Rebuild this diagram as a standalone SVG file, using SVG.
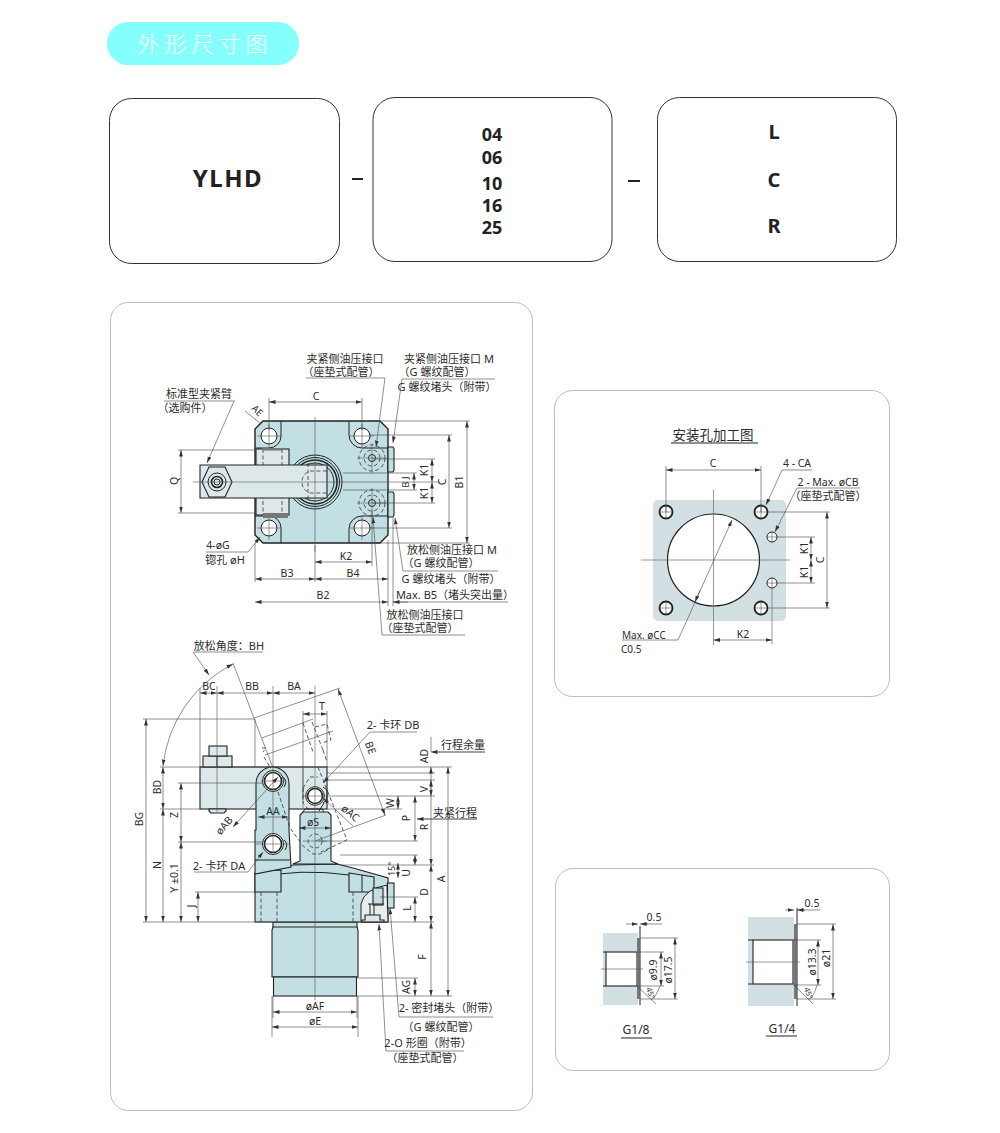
<svg xmlns="http://www.w3.org/2000/svg" width="1000" height="1133" viewBox="0 0 1000 1133">
<style>
text{font-family:"Noto Sans","Noto Sans CJK SC",sans-serif;font-size:10.500px;fill:#2b2b2b;text-anchor:middle}
.c{font-size:11px}
.l{text-anchor:start}
.hd{font-weight:700;fill:#222}
.box{fill:#fff;stroke:#333;stroke-width:1}
.panel{fill:#fff;stroke:#bdbdbd;stroke-width:1}
.body{fill:#c2dfe3;stroke:#222;stroke-width:1.1}
.arm{fill:#dde8ea;stroke:#222;stroke-width:1.1}
.wh{fill:#fff;stroke:#222;stroke-width:1}
.ln{fill:none;stroke:#222;stroke-width:1}
.hv{fill:none;stroke:#222;stroke-width:1.600}
.dsh{fill:none;stroke:#333;stroke-width:.8;stroke-dasharray:4 2.500}
.ctr{fill:none;stroke:#555;stroke-width:.6}
.d{fill:none;stroke:#444;stroke-width:.6}
.da{fill:none;stroke:#444;stroke-width:.6;marker-start:url(#a);marker-end:url(#a)}
.ae{fill:none;stroke:#444;stroke-width:.6;marker-end:url(#a)}
</style>
<defs>
<marker id="a" markerUnits="userSpaceOnUse" markerWidth="7" markerHeight="5" refX="6.500" refY="2.500" orient="auto-start-reverse"><path d="M0 0.6L6.500 2.500L0 4.400Z" fill="#333"/></marker>
</defs>
<rect width="1000" height="1133" fill="#fff"/>

<g id="title">
<rect x="107" y="22" width="192" height="43" rx="21" fill="#86ffff"/>
<text x="205" y="52" style="font-size:22px;fill:#fff;font-weight:300;letter-spacing:5px">外形尺寸图</text>
</g>

<g id="model-code">
<g id="box-series"><rect class="box" x="109.500" y="98.500" width="230" height="165" rx="22"/>
<text class="hd" x="228" y="187" style="font-size:24px;letter-spacing:1.500px">YLHD</text></g>
<g id="box-size"><rect class="box" x="373" y="97.500" width="239" height="164" rx="22"/>
<text class="hd" x="492" y="141" style="font-size:18px">04</text>
<text class="hd" x="492" y="164" style="font-size:18px">06</text>
<text class="hd" x="492" y="190" style="font-size:18px">10</text>
<text class="hd" x="492" y="212" style="font-size:18px">16</text>
<text class="hd" x="492" y="234" style="font-size:18px">25</text></g>
<g id="box-direction"><rect class="box" x="657.500" y="97.500" width="239" height="164" rx="22"/>
<text class="hd" x="774" y="139" style="font-size:20px">L</text>
<text class="hd" x="774" y="187" style="font-size:20px">C</text>
<text class="hd" x="774" y="233" style="font-size:20px">R</text></g>
<path d="M352 179H363M628 181H640" stroke="#222" stroke-width="2" fill="none"/>
</g>

<g id="panels">
<rect class="panel" x="110.500" y="302.500" width="422" height="808" rx="18"/>
<rect class="panel" x="554.500" y="390.500" width="335" height="306" rx="18"/>
<rect class="panel" x="555.500" y="868.500" width="334" height="202" rx="18"/>
</g>

<g id="top-view">
<path class="body" d="M263 421H380L388 429V535L380 543H263L255 535V429Z" style="stroke-width:1.400"/>
<g id="holes-top">
<path class="ln" d="M281 421V436A12 12 0 0 1 269 448H255M349 421V435A13 13 0 0 0 362 448H388M281 543V528A12 12 0 0 0 269 516H255M349 543V529A13 13 0 0 1 362 516H388"/>
<circle class="wh" cx="269" cy="436" r="8"/><circle class="wh" cx="362" cy="436" r="8"/><circle class="wh" cx="269" cy="528" r="8"/><circle class="wh" cx="362" cy="528" r="8"/>
<path class="ctr" d="M257 436H281M269 424V448M350 436H374M362 424V448M257 528H281M269 516V540M350 528H374M362 516V540"/>
</g>
<circle class="ln" cx="315" cy="482" r="27"/><circle class="ln" cx="315" cy="482" r="24.500"/><circle class="hv" cx="315" cy="482" r="22"/><circle class="ln" cx="315" cy="482" r="19"/>
<rect class="arm" x="256" y="449" width="33" height="66"/>
<path class="dsh" d="M263 449V515M282 449V515"/>
<rect x="262" y="448" width="21" height="2.500" fill="#777"/><rect x="263" y="513" width="25" height="5" fill="#777"/>
<path class="arm" d="M200 465H327V498H200Z"/>
<path class="dsh" d="M327 471H310Q302 474 302 482Q302 490 310 493H327M308 463V500"/>
<path fill="none" stroke="#222" stroke-width="1.100" d="M202 482L209 467H225L232 482L225 497H209Z"/>
<circle class="ln" cx="217" cy="482" r="9"/><circle class="hv" cx="217" cy="482" r="5.500"/><circle class="ln" cx="217" cy="482" r="3"/>
<g id="ports-top">
<circle class="dsh" cx="372" cy="458" r="13"/><circle class="dsh" cx="372" cy="458" r="8"/><circle class="ln" cx="372" cy="458" r="3.500"/>
<circle class="dsh" cx="372" cy="503" r="13"/><circle class="dsh" cx="372" cy="503" r="8"/><circle class="ln" cx="372" cy="503" r="3.500"/>
<path class="body" d="M388 447H393L394 449V470L393 472H388Z"/><path class="body" d="M388 492H393L394 494V515L393 517H388Z"/>
<path class="ctr" d="M357 458H386M372 443V473M357 503H386M372 488V518"/>
</g>
<path class="ctr" d="M193 482H440M315 417V552"/>

<g id="top-dims">
<path class="d" d="M269 398V430M362 398V430M178 450H256M178 513H256M370 421H470M370 435H452M370 528H452M372 543H470M372 459H435M372 503H435M343 473H417M343 490H417M255 543V582M388 540V606M393 518V606M315 545V582M372 510V566"/>
<path class="da" d="M269 402H362"/><path class="da" d="M181 450V513"/><path class="da" d="M414 473V490"/><path class="da" d="M432 459V482"/><path class="da" d="M432 482V503"/><path class="da" d="M449 435V528"/><path class="da" d="M467 421V543"/><path class="da" d="M315 562H372"/><path class="da" d="M255 579H315"/><path class="da" d="M315 579H388"/><path class="da" d="M255 602H388"/>
<path class="d" d="M393 602H508"/><path class="ae" d="M408 602H393"/>
<path class="d" d="M245 411L261 424"/>
<text x="316" y="400">C</text>
<text transform="translate(178 481) rotate(-90)">Q</text>
<text transform="translate(255 413) rotate(45)" style="font-size:9.500px">AE</text>
<text transform="translate(409 482) rotate(-90)" style="font-size:9.500px">B J</text>
<text transform="translate(428 470) rotate(-90)">K1</text>
<text transform="translate(428 493) rotate(-90)">K1</text>
<text transform="translate(446 482) rotate(-90)">C</text>
<text transform="translate(463 482) rotate(-90)">B1</text>
<text x="346" y="560">K2</text><text x="287" y="577">B3</text><text x="353" y="577">B4</text><text x="323" y="599">B2</text>
</g>
<g id="top-labels">
<text class="c" x="345" y="363">夹紧侧油压接口</text><text class="c" x="341" y="376">（座垫式配管）</text>
<path class="d" d="M306 378H385"/><path class="ae" d="M385 378L376 447"/>
<text class="c" x="449" y="363">夹紧侧油压接口 M</text><text class="c" x="437" y="376">（G 螺纹配管）</text><text class="c" x="447" y="391">G 螺纹堵头（附带）</text>
<path class="d" d="M402 379H495"/><path class="ae" d="M402 379L393 443"/>
<text class="c" x="199" y="398">标准型夹紧臂</text><text class="c" x="185" y="412">（选购件）</text>
<path class="d" d="M164 401H235"/><path class="ae" d="M234 401L207 463"/>
<text x="218" y="549">4-øG</text><text class="c" x="225" y="564">锪孔 øH</text>
<path class="d" d="M206 552H248"/><path class="ae" d="M248 552L260 537"/>
<text class="c" x="452" y="554">放松侧油压接口 M</text><text class="c" x="441" y="567">（G 螺纹配管）</text><text class="c" x="451" y="583">G 螺纹堵头（附带）</text>
<path class="d" d="M403 571H498"/><path class="ae" d="M403 571L395 518"/>
<text class="c" x="455" y="599">Max. B5（堵头突出量）</text>
<text class="c" x="425" y="619">放松侧油压接口</text><text class="c" x="420" y="632">（座垫式配管）</text>
<path class="d" d="M382 635H465"/><path class="ae" d="M382 635L373 517"/>
</g>
</g>

<g id="side-view">
<g id="cylinder">
<rect class="body" x="273" y="922" width="84" height="8"/>
<path class="body" d="M272 930L273 927H357L358 930V977H272Z"/>
<rect class="body" x="273.500" y="977" width="83" height="19"/>
</g>
<path class="body" d="M255 922V874L293 865L337 864L353 868L388 878V922Z"/>
<path class="ln" d="M255 878Q300 868 349 875"/>
<path class="body" d="M255 873Q268 870 281 870V892H255Z"/><path class="body" d="M349 873L374 877V892H349Z"/>
<path class="dsh" d="M261 892V922M277 892V922M353 892V922"/>
<path class="ln" d="M362 875V892M362 903V922"/>
<path d="M361 922V904Q364 889 387 885L388 922Z" fill="#e6ecec" stroke="#222" stroke-width="1"/>
<rect class="body" x="373" y="888" width="10" height="17"/>
<path class="ln" d="M368 904H384M370 904V915M374 904V915"/>
<path class="body" d="M365 915H380V920H384V922H362V920H365Z" style="fill:#dde8ea"/>
<rect class="body" x="387.500" y="883" width="6.500" height="25"/>
<rect class="arm" x="200" y="767" width="127" height="42"/>
<g id="arm-nut">
<rect class="arm" x="203" y="756" width="29" height="11"/><rect class="arm" x="209" y="746" width="18" height="10"/>
<path class="ln" d="M217 756V767"/><path class="arm" d="M209 809H226V811L224 813H211L209 811Z"/>
</g>
<path class="ctr" d="M303 767V809"/>
<path class="body" d="M256 784A16.500 17 0 0 1 289 784V830L291 867L255 874V830L256 830Z"/>
<circle class="wh" cx="273" cy="781" r="10.500"/><circle class="hv" cx="273" cy="781" r="8.500"/>
<circle class="wh" cx="273" cy="844" r="10.500"/><circle class="hv" cx="273" cy="844" r="8.500"/>
<path class="ln" d="M283 777Q288 781 284 787M284 840Q289 844 285 850M255 860H291"/>
<path class="dsh" d="M303 788L310 777H318M303 788V803L309 810"/>
<path class="dsh" d="M278 792L290 828L301 843"/>
<path class="body" d="M300 861V815L303 812H328L331 815V861L338 864H293Z"/>
<path class="ln" d="M303 812L305 809H322L324 812"/>
<circle class="dsh" cx="315" cy="841" r="7"/><path class="dsh" d="M302 845L313 854H320L331 848"/>
<circle class="wh" cx="315" cy="796" r="9.300"/><circle class="hv" cx="315" cy="796" r="7.500"/>
<path class="ln" d="M323 787L327 790V800L323 803"/><path class="ln" d="M324 803L319 811"/>
<g id="tilted-arm">
<path class="dsh" d="M303 723L313 752M312 722L323 750M315 727L327 724L331 740L322 743M262 748H266L263 752M264 757L270 767M318 767L347 840L321 852M323 750L327 762"/>
<path class="d" d="M262 738L313 719M265 755L333 731"/>
</g>
<path class="ctr" d="M217 686V812M273 686V853M255 844H290M261 781H285M303 796H327M315 686V1000M303 841H327"/>

<g id="side-dims">
<path class="d" d="M200 688V767M303 711V800M327 711V767M143 719H254M160 767H452M143 922H434M160 809H200M178 783H263M178 842H263M195 892H255M327 773H435M325 780H435M327 796H435M327 809H402M318 841H418M340 855H418M340 865H434M380 897H418M357 978H418M357 996H452M273 996V1018M358 996V1037M272 996V1037M357 996V1018"/>
<path class="d" d="M254 718L340 688M233 663L273 768M315 841L386 815M255 719V767"/>
<path class="da" d="M200 693H217"/><path class="da" d="M217 693H273"/><path class="da" d="M273 693H315"/><path class="da" d="M303 714H327"/>
<path class="da" d="M146 719V922"/><path class="da" d="M163 767V809"/><path class="da" d="M163 809V922"/><path class="da" d="M181 783V842"/><path class="da" d="M181 842V922"/><path class="da" d="M198 892V922"/>
<path class="da" d="M338 689L385 815"/>
<path class="da" d="M258 817H288"/><path class="da" d="M299 828H331"/>
<path class="da" d="M431 767V865"/><path class="da" d="M431 865V922"/><path class="da" d="M431 922V996"/><path class="da" d="M448 767V996"/>
<path class="d" d="M431 737V752"/>
<path class="da" d="M431 780V796"/><path class="da" d="M415 796V841"/><path class="da" d="M398 796V809"/>
<path class="da" d="M415 855V865"/><path class="da" d="M415 897V922"/><path class="da" d="M415 978V996"/><path class="da" d="M398 863V878"/>
<path class="da" d="M273 1012H357"/><path class="da" d="M272 1027H358"/>
<path d="M163 766A130 130 0 0 1 233 664" class="da"/>
<path class="ae" d="M193 652L209 675"/>
<path class="d" d="M194 652H263"/>
<text class="c" x="229" y="650">放松角度：BH</text>
<text x="209" y="690">BC</text><text x="252" y="690">BB</text><text x="294" y="690">BA</text><text x="322" y="710">T</text>
<text transform="translate(143 819) rotate(-90)">BG</text><text transform="translate(161 787) rotate(-90)">BD</text>
<text transform="translate(178 815) rotate(-90)">Z</text><text transform="translate(161 865) rotate(-90)">N</text>
<text transform="translate(178 878) rotate(-90)">Y ±0.1</text><text transform="translate(195 906) rotate(-90)">J</text>
<text transform="translate(227 828) rotate(-50)">øAB</text><text transform="translate(348 816) rotate(40)">øAC</text>
<text transform="translate(367 749) rotate(70)">BE</text>
<text x="273" y="815">AA</text><text x="313" y="826">øS</text>
<text class="c" x="393" y="729">2- 卡环 DB</text><path class="d" d="M370 732H417"/><path class="ae" d="M370 732L323 783"/>
<path class="da" d="M233 827L278 777"/><path class="ae" d="M353 826L323 798"/>
<text class="c" x="219" y="870">2- 卡环 DA</text><path class="d" d="M194 872H248"/><path class="ae" d="M248 872L263 852"/>
<text class="c" x="463" y="749">行程余量</text><path class="d" d="M433 752H485"/><path class="ae" d="M485 752H431"/>
<text class="c" x="455" y="817">夹紧行程</text><path class="d" d="M417 819H477"/><path class="ae" d="M477 819H417"/>
<text transform="translate(428 756) rotate(-90)">AD</text><text transform="translate(428 789) rotate(-90)">V</text>
<text transform="translate(394 803) rotate(-90)">W</text><text transform="translate(410 818) rotate(-90)">P</text>
<text transform="translate(428 827) rotate(-90)">R</text><text transform="translate(445 879) rotate(-90)">A</text>
<text transform="translate(395 869) rotate(-90)" style="font-size:9px">15°</text><text transform="translate(410 873) rotate(-90)">U</text>
<text transform="translate(428 892) rotate(-90)">D</text><text transform="translate(411 908) rotate(-90)">L</text>
<text transform="translate(426 957) rotate(-90)">F</text><text transform="translate(410 987) rotate(-90)">AG</text>
<text x="315" y="1010">øAF</text><text x="315" y="1025">øE</text>
<text class="c" x="449" y="1012">2- 密封堵头（附带）</text><path class="d" d="M399 1017H493"/><path class="ae" d="M399 1017L390 908"/>
<text class="c" x="441" y="1031">（G 螺纹配管）</text>
<text class="c" x="428" y="1047">2-O 形圈（附带）</text><path class="d" d="M386 1051H464"/><path class="ae" d="M386 1051L379 924"/>
<text class="c" x="425" y="1062">（座垫式配管）</text>
</g>
</g>

<g id="mounting">
<text x="713" y="440" style="font-size:13.500px">安装孔加工图</text><path class="ln" d="M671 443H758"/>
<rect x="653" y="500" width="133" height="121" rx="5" fill="#d3e0e3"/>
<circle class="wh" cx="713.500" cy="560" r="46" style="stroke-width:1.200"/>
<g id="mount-holes">
<circle class="wh" cx="666" cy="512" r="6.500" style="stroke-width:1.800"/><circle class="wh" cx="761" cy="512" r="6.500" style="stroke-width:1.800"/><circle class="wh" cx="666" cy="608" r="6.500" style="stroke-width:1.800"/><circle class="wh" cx="761" cy="608" r="6.500" style="stroke-width:1.800"/>
<circle class="wh" cx="772" cy="537" r="5"/><circle class="wh" cx="772" cy="583" r="5"/>
</g>
<path class="ctr" d="M713.500 490V645M641 560H790M660 512H672M666 506V518M755 512H767M761 506V518M660 608H672M666 602V614M755 608H767M761 602V614M767 537H777M772 532V542M767 583H777M772 578V644"/>
<path class="d" d="M666 466V512M761 466V512M768 512H830M777 537H815M777 583H815M768 608H830"/>
<path class="da" d="M666 470H761"/><path class="da" d="M811 537V560"/><path class="da" d="M811 560V583"/><path class="da" d="M827 512V608"/><path class="da" d="M713.500 640H772"/>
<path class="ae" d="M678 640L732 520"/><path class="d" d="M622 640H678"/><path class="ae" d="M700 590L695 602"/>
<path class="d" d="M782 470H812"/><path class="ae" d="M782 470L766 505"/>
<path class="d" d="M797 488H860"/><path class="ae" d="M797 488L775 532"/>
<text x="713" y="467">C</text><text x="797" y="467">4 - CA</text><text x="828" y="486">2 - Max. øCB</text><text class="c" x="828" y="500">（座垫式配管）</text>
<text transform="translate(808 548) rotate(-90)">K1</text><text transform="translate(808 572) rotate(-90)">K1</text><text transform="translate(824 560) rotate(-90)">C</text>
<text x="743" y="638">K2</text><text class="l" x="622" y="639" style="font-size:10px">Max. øCC</text><text class="l" x="621" y="653" style="font-size:10px">C0.5</text>
</g>

<g id="thread-details">
<g id="g18">
<rect x="603" y="933" width="35" height="72" fill="#d3e0e3"/>
<rect x="606" y="952" width="31" height="34" fill="#fff" stroke="#333" stroke-width="1.200"/>
<rect x="637" y="938" width="2.500" height="61" fill="#777"/>
<path class="ln" d="M640 926V1005M603 952H606M603 986H606"/>
<path class="ctr" d="M601 969H643"/>
<path class="d" d="M640 938H678M638 952H664M638 986H664M640 999H678M637 986L656 1004"/>
<path class="d" d="M645 924H662"/><path class="ae" d="M626 924H638"/><path class="ae" d="M648 924H640"/>
<path class="da" d="M675 938V999"/><path class="da" d="M661 952V986"/><path class="d" d="M651 1000Q656 997 660 986"/>
<text x="654" y="921">0.5</text>
<text transform="translate(657 970) rotate(-90)">ø9.9</text><text transform="translate(672 970) rotate(-90)">ø17.5</text>
<text transform="translate(648 994) rotate(70)" style="font-size:7.500px">45°</text>
<text x="636" y="1034" style="font-size:12px">G1/8</text><path class="ln" d="M621 1038H652"/>
</g>
<g id="g14">
<rect x="748" y="917" width="46" height="89" fill="#d3e0e3"/>
<rect x="753" y="940" width="40" height="44" fill="#fff" stroke="#333" stroke-width="1.200"/>
<rect x="794" y="924" width="2.500" height="75" fill="#777"/>
<path class="ln" d="M797 908V1006M748 940H753M748 984H753"/>
<path class="ctr" d="M746 962H800"/>
<path class="d" d="M797 924H836M793 940H821M793 985H821M797 999H836M794 985L813 1004"/>
<path class="d" d="M802 910H820"/><path class="ae" d="M785 910H794"/><path class="ae" d="M805 910H797"/>
<path class="da" d="M833 924V999"/><path class="da" d="M818 940V985"/><path class="d" d="M808 1000Q814 997 817 985"/>
<text x="812" y="907">0.5</text>
<text transform="translate(816 962) rotate(-90)">ø13.3</text><text transform="translate(830 958) rotate(-90)">ø21</text>
<text transform="translate(806 994) rotate(70)" style="font-size:7.500px">45°</text>
<text x="782" y="1033" style="font-size:12px">G1/4</text><path class="ln" d="M766 1036H797"/>
</g>
</g>
</svg>
